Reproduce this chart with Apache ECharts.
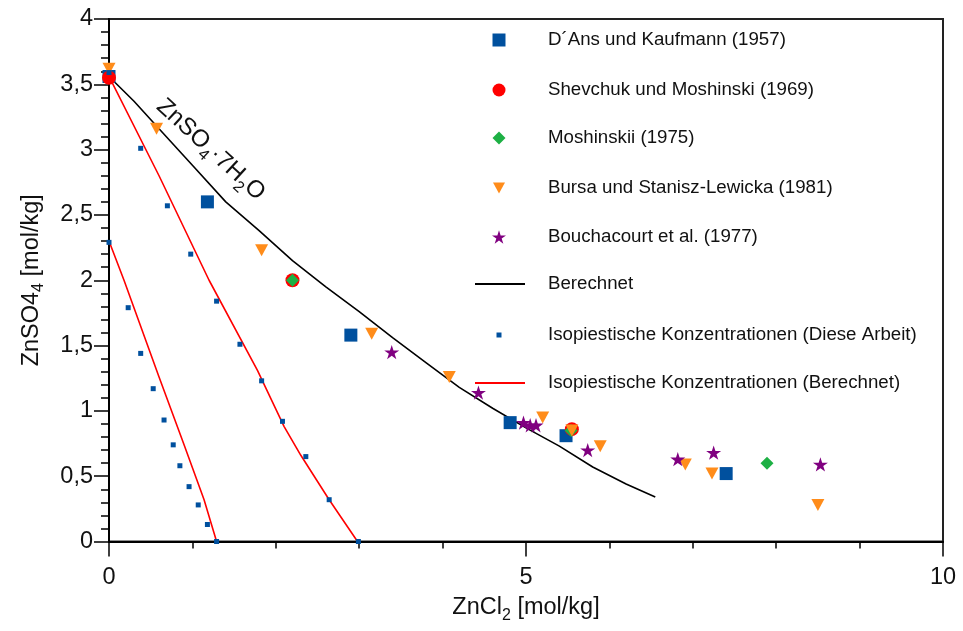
<!DOCTYPE html>
<html>
<head>
<meta charset="utf-8">
<script src="https://cdn.jsdelivr.net/npm/echarts@6/dist/echarts.min.js"></script>
<style>
  html, body { margin: 0; padding: 0; background: #fff; }
  #main { width: 963px; height: 631px; }
</style>
</head>
<body>
<div id="main"></div>
<script>
// Daten
var dansX = [0, 1.18, 2.90, 4.81, 5.48, 7.40];
var dansY = [3.56, 2.60, 1.58, 0.91, 0.81, 0.52];

var shevX = [0, 2.20, 5.55];
var shevY = [3.55, 2.00, 0.86];

var moshX = [2.20, 5.54, 7.89];
var moshY = [2.00, 0.85, 0.60];

var bursaX = [0, 0.57, 1.83, 3.15, 4.08, 5.20, 5.55, 5.89, 6.91, 7.23, 8.50];
var bursaY = [3.62, 3.16, 2.23, 1.59, 1.26, 0.95, 0.85, 0.73, 0.59, 0.52, 0.28];

var bouchX = [3.39, 4.43, 4.97, 5.05, 5.12, 5.74, 6.82, 7.25, 8.53];
var bouchY = [1.45, 1.14, 0.91, 0.89, 0.89, 0.70, 0.63, 0.68, 0.59];

var berechnetX = [0, 0.3, 0.6, 1.0, 1.4, 1.8, 2.2, 2.6, 3.0, 3.4, 3.8, 4.2, 4.6, 5.0, 5.4, 5.8, 6.2, 6.55];
var berechnetY = [3.56, 3.37, 3.16, 2.88, 2.60, 2.38, 2.15, 1.95, 1.76, 1.56, 1.37, 1.18, 1.02, 0.87, 0.73, 0.57, 0.44, 0.34];

var iso1X = [0, 0.23, 0.38, 0.53, 0.66, 0.77, 0.85, 0.96, 1.07, 1.18, 1.29];
var iso1Y = [2.29, 1.79, 1.44, 1.17, 0.93, 0.74, 0.58, 0.42, 0.28, 0.13, 0];
var iso2X = [0, 0.38, 0.70, 0.98, 1.29, 1.57, 1.83, 2.08, 2.36, 2.64, 2.99];
var iso2Y = [3.59, 3.01, 2.57, 2.20, 1.84, 1.51, 1.23, 0.92, 0.65, 0.32, 0];

var red1X = [0, 0.18, 0.60, 0.90, 1.14, 1.29];
var red1Y = [2.30, 2.00, 1.26, 0.74, 0.32, 0];
var red2X = [0, 0.60, 1.20, 1.78, 2.10, 2.30, 2.64, 2.98];
var red2Y = [3.56, 2.80, 2.00, 1.31, 0.88, 0.66, 0.32, 0];

var names = [
  'D´Ans und Kaufmann (1957)',
  'Shevchuk und Moshinski (1969)',
  'Moshinskii (1975)',
  'Bursa und Stanisz-Lewicka (1981)',
  'Bouchacourt et al. (1977)',
  'Berechnet',
  'Isopiestische Konzentrationen (Diese Arbeit)',
  'Isopiestische Konzentrationen (Berechnet)'
];

function zip(xs, ys) {
  return xs.map(function (x, i) { return [x, ys[i]]; });
}

var FONT = '"Liberation Sans", Arial, sans-serif';
var BLUE = '#00509e';
var starPath = 'path://M100,0L122.45,69.1L195.1,69.1L136.3,111.8L158.8,180.9L100,138.2L41.2,180.9L63.7,111.8L4.9,69.1L77.55,69.1Z';
var triPath = 'path://M0,0L12,0L6,11Z';

(function () {
  var myChart = echarts.init(document.getElementById('main'));

  // Legende: je Eintrag eine eigene Legende
  var rowsY = [40, 90, 138, 188, 237, 284, 335, 383];
  var iconW = [13, 13, 13, 12, 14, 50, 5, 50];
  var iconH = [13, 13, 13, 11, 14, 2, 5, 2];
  var legends = names.map(function (n, i) {
    var isLine = (i === 5 || i === 7);
    var left = isLine ? 475 : 499 - iconW[i] / 2;
    var pad = isLine ? 18 : 44 - iconW[i] / 2;
    var lg = {
      data: [n],
      left: left,
      top: rowsY[i] - 10,
      padding: 0,
      itemWidth: iconW[i],
      itemHeight: iconH[i],
      selectedMode: false,
      textStyle: {
        fontFamily: FONT,
        fontSize: 18.7,
        lineHeight: 20,
        color: '#111',
        padding: [0, 0, 0, pad]
      }
    };
    if (isLine) lg.icon = 'rect';
    return lg;
  });

  var option = {
    animation: false,
    backgroundColor: '#fff',
    grid: {
      show: true,
      left: 109,
      right: 20,
      top: 19,
      bottom: 89.5,
      borderColor: '#222',
      borderWidth: 2,
      containLabel: false
    },
    legend: legends,
    xAxis: {
      type: 'value',
      min: 0,
      max: 10,
      interval: 5,
      name: '{a|ZnCl}{s|2}{a| [mol/kg]}',
      nameLocation: 'middle',
      nameGap: 51,
      nameTextStyle: {
        rich: {
          a: { fontFamily: FONT, fontSize: 23.5, color: '#111', lineHeight: 24 },
          s: { fontFamily: FONT, fontSize: 16, color: '#111', padding: [15, 0, 0, 0] }
        }
      },
      axisLine: { onZero: false, lineStyle: { color: '#000', width: 2 } },
      axisTick: { show: true, length: 15, lineStyle: { color: '#000', width: 1.5 } },
      minorTick: { show: true, splitNumber: 5, length: 7, lineStyle: { color: '#000', width: 1.5 } },
      splitLine: { show: false },
      axisLabel: { fontFamily: FONT, fontSize: 23.5, color: '#111', margin: 24 }
    },
    yAxis: {
      type: 'value',
      min: 0,
      max: 4,
      interval: 0.5,
      name: '{a|ZnSO4}{s|4}{a| [mol/kg]}',
      nameLocation: 'middle',
      nameGap: 62,
      nameTextStyle: {
        rich: {
          a: { fontFamily: FONT, fontSize: 23.5, color: '#111', lineHeight: 24 },
          s: { fontFamily: FONT, fontSize: 16, color: '#111', padding: [15, 0, 0, 0] }
        }
      },
      axisLine: { onZero: false, lineStyle: { color: '#000', width: 2 } },
      axisTick: { show: true, length: 15, lineStyle: { color: '#000', width: 1.5 } },
      minorTick: { show: true, splitNumber: 5, length: 8, lineStyle: { color: '#000', width: 1.5 } },
      splitLine: { show: false },
      axisLabel: {
        fontFamily: FONT, fontSize: 23.5, color: '#111', margin: 16,
        formatter: function (v) { return String(v).replace('.', ','); }
      }
    },
    graphic: [{
      type: 'text',
      x: 160,
      y: 103,
      rotation: -42.6 * Math.PI / 180,
      z: 100,
      style: {
        text: '{a|ZnSO}{s|4}{a|·7H}{s|2}{a|O}',
        align: 'left',
        verticalAlign: 'middle',
        textAlign: 'left',
        textVerticalAlign: 'middle',
        rich: {
          a: { fontFamily: FONT, fontSize: 24, fill: '#111', lineHeight: 24, verticalAlign: 'top' },
          s: { fontFamily: FONT, fontSize: 16, fill: '#111', lineHeight: 16, padding: [13, 0, 0, 0], verticalAlign: 'top' }
        }
      }
    }],
    series: [
      {
        name: names[5], type: 'line', data: zip(berechnetX, berechnetY),
        symbol: 'none', smooth: false, z: 2,
        lineStyle: { color: '#000', width: 1.6 }, itemStyle: { color: '#000' }
      },
      {
        name: names[7], type: 'line', data: zip(red1X, red1Y),
        symbol: 'none', z: 2,
        lineStyle: { color: '#ff0000', width: 1.6 }, itemStyle: { color: '#ff0000' }
      },
      {
        name: names[7], type: 'line', data: zip(red2X, red2Y),
        symbol: 'none', z: 2,
        lineStyle: { color: '#ff0000', width: 1.6 }, itemStyle: { color: '#ff0000' }
      },
      {
        name: names[0], type: 'scatter', data: zip(dansX, dansY), clip: false,
        symbol: 'rect', symbolSize: 13, z: 3, itemStyle: { color: BLUE, opacity: 1 }
      },
      {
        name: names[1], type: 'scatter', data: zip(shevX, shevY), clip: false,
        symbol: 'circle', symbolSize: 14, z: 3, itemStyle: { color: '#ff0000', opacity: 1 }
      },
      {
        name: names[2], type: 'scatter', data: zip(moshX, moshY), clip: false,
        symbol: 'diamond', symbolSize: 13, z: 3, itemStyle: { color: '#1db044', opacity: 1 }
      },
      {
        name: names[3], type: 'scatter', data: zip(bursaX, bursaY), clip: false,
        symbol: triPath, symbolSize: [13, 12], z: 3, itemStyle: { color: '#ff8c1a', opacity: 1 }
      },
      {
        name: names[4], type: 'scatter', data: zip(bouchX, bouchY), clip: false,
        symbol: starPath, symbolSize: 15, symbolKeepAspect: true, z: 3, itemStyle: { color: '#800080', opacity: 1 }
      },
      {
        name: names[6], type: 'scatter', data: zip(iso1X, iso1Y).concat(zip(iso2X, iso2Y)), clip: false,
        symbol: 'rect', symbolSize: 5, z: 4, itemStyle: { color: BLUE, opacity: 1 }
      }
    ]
  };

  myChart.setOption(option);
  window.addEventListener('resize', function () {
    myChart.resize();
  });
})();
</script>
</body>
</html>
